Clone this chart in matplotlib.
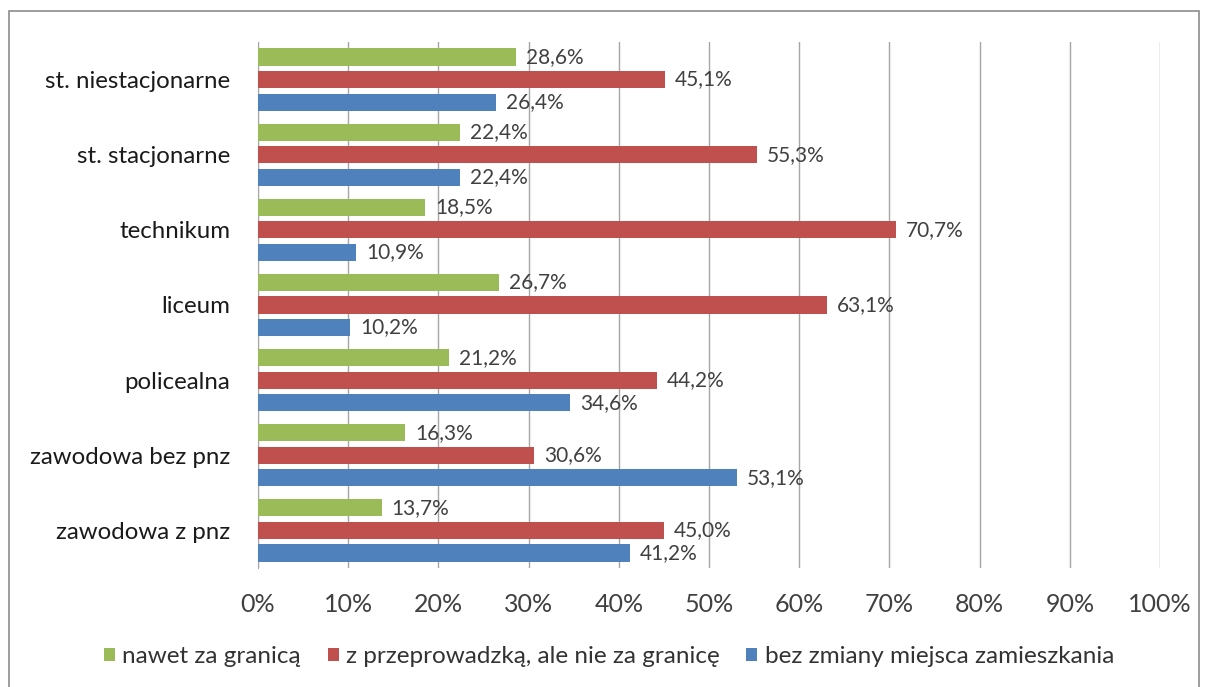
import numpy as np
import matplotlib.pyplot as plt
from matplotlib.patches import Rectangle

categories = ["st. niestacjonarne", "st. stacjonarne", "technikum", "liceum",
              "policealna", "zawodowa bez pnz", "zawodowa z pnz"]
series_names = ["nawet za granicą", "z przeprowadzką, ale nie za granicę",
                "bez zmiany miejsca zamieszkania"]
green_vals = [28.6, 22.4, 18.5, 26.7, 21.2, 16.3, 13.7]
red_vals = [45.1, 55.3, 70.7, 63.1, 44.2, 30.6, 45.0]
blue_vals = [26.4, 22.4, 10.9, 10.2, 34.6, 53.1, 41.2]
colors = ["#9BBB59", "#C0504D", "#4F81BD"]

plt.rcParams['font.family'] = ['Lato', 'DejaVu Sans']

fig = plt.figure(figsize=(12.06, 6.87), dpi=100)
ax = fig.add_axes([0.2139, 0.1732, 0.748, 0.7657])

# outer chart border
fig.patches.append(Rectangle((9/1206, -0.05), 1190/1206, 1 - 11/687 + 0.05,
                             transform=fig.transFigure, fill=False,
                             edgecolor="#8c8c8c", linewidth=1.2))

n = len(categories)
y = np.arange(n)[::-1]  # first category on top
pitch = 0.3
h = 0.227
offsets = [pitch, 0, -pitch]

for vals, col, off, name in zip([green_vals, red_vals, blue_vals], colors, offsets, series_names):
    bars = ax.barh(y + off, vals, height=h, color=col, label=name, zorder=3)
    for b, v in zip(bars, vals):
        ax.text(v + 1.1, b.get_y() + b.get_height() / 2, f"{v:.1f}%".replace(".", ","),
                va="center", ha="left", fontsize=15, color="#404040", zorder=4)

ax.set_xlim(0, 100)
ax.set_ylim(-0.5, n - 0.5)
ax.set_xticks(np.arange(0, 101, 10))
ax.set_xticklabels([f"{t}%" for t in range(0, 101, 10)], fontsize=18, color="#404040")
ax.set_yticks(y)
ax.set_yticklabels(categories, fontsize=17.3, color="#1a1a1a")
ax.tick_params(axis="y", length=0, pad=20)
ax.tick_params(axis="x", length=0, pad=18)
ax.grid(axis="x", color="#a6a6a6", linewidth=1, zorder=0)
for s in ["top", "right", "bottom"]:
    ax.spines[s].set_visible(False)
ax.spines["left"].set_color("#a6a6a6")

fig.legend(loc="center", bbox_to_anchor=(0.505, 0.044), ncol=3, frameon=False,
           fontsize=17.5, handlelength=0.45, handleheight=0.45, handletextpad=0.3,
           columnspacing=1.1, labelcolor="#333333")

fig.savefig("out.png", dpi=100)
